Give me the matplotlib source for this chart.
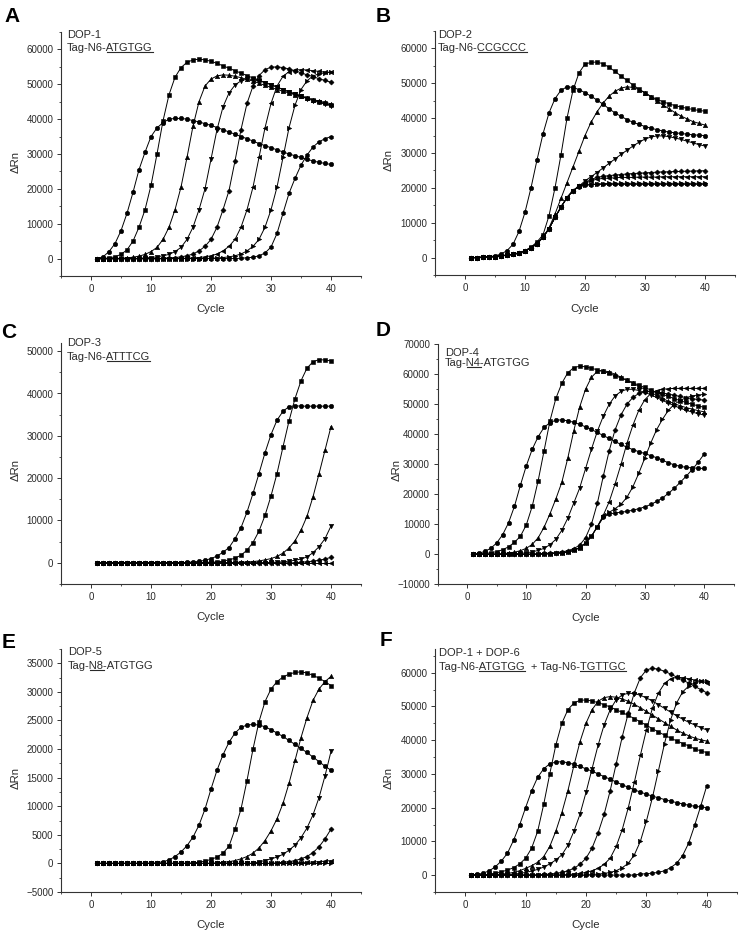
import matplotlib
matplotlib.use("Agg")
import matplotlib.pyplot as plt
from matplotlib.ticker import MultipleLocator
from matplotlib.lines import Line2D

plt.rcParams['font.family'] = ['Liberation Sans', 'DejaVu Sans']

CYCLES = list(range(1, 41))

# ---------------- data (ΔRn in thousands, cycles 1..40) ----------------
A1 = [0, 0.5, 2, 4.3, 8, 13, 19, 25.5, 30.5, 35,
      37.5, 39, 40, 40.2, 40.2, 40, 39.6, 39.2, 38.7, 38.2,
      37.6, 37, 36.3, 35.7, 35, 34.4, 33.7, 33, 32.4, 31.8,
      31.2, 30.6, 30, 29.5, 29, 28.5, 28, 27.6, 27.3, 27]
A2 = [0, 0, 0.2, 0.5, 1.2, 2.5, 5, 9, 14, 21,
      30, 39.5, 47, 52, 54.8, 56.3, 57, 57.2, 57, 56.6,
      56, 55.3, 54.6, 53.9, 53.2, 52.5, 51.8, 51.2, 50.5, 49.9,
      49.2, 48.5, 47.9, 47.3, 46.7, 46.1, 45.5, 45, 44.5, 44]
A3 = [0, 0, 0, 0, 0.1, 0.2, 0.4, 0.7, 1.2, 2,
      3.2, 5.5, 9, 14, 20.5, 29, 38, 45, 49.5, 51.5,
      52.4, 52.7, 52.6, 52.3, 51.9, 51.4, 50.9, 50.3, 49.7, 49.1,
      48.5, 48, 47.5, 47, 46.5, 46.1, 45.6, 45.2, 44.8, 44.4]
A4 = [0, 0, 0, 0, 0, 0, 0, 0.1, 0.2, 0.3,
      0.5, 0.8, 1.2, 2, 3.2, 5.5, 9, 14, 20, 28.5,
      37, 43.5, 47.5, 49.8, 51, 51.5, 51.4, 51, 50.5, 49.9,
      49.2, 48.5, 47.8, 47.1, 46.5, 45.9, 45.3, 44.8, 44.3, 43.8]
A5 = [0, 0, 0, 0, 0, 0, 0, 0, 0, 0,
      0, 0.1, 0.2, 0.3, 0.5, 0.8, 1.3, 2.2, 3.5, 5.5,
      9, 14, 19.5, 28, 37, 44.5, 49.5, 52.5, 54.2, 54.9,
      55, 54.8, 54.4, 53.9, 53.3, 52.7, 52.2, 51.6, 51.1, 50.6]
A6 = [0, 0, 0, 0, 0, 0, 0, 0, 0, 0,
      0, 0, 0, 0, 0, 0.1, 0.2, 0.3, 0.5, 0.8,
      1.3, 2.2, 3.5, 5.5, 9, 14, 20.5, 29, 37.5, 44.5,
      49.5, 52.3, 53.6, 54.1, 54.2, 54.1, 53.9, 53.7, 53.5, 53.4]
A7 = [0, 0, 0, 0, 0, 0, 0, 0, 0, 0,
      0, 0, 0, 0, 0, 0, 0, 0, 0, 0.1,
      0.2, 0.3, 0.5, 0.8, 1.3, 2.2, 3.5, 5.5, 9, 14,
      20.5, 29, 37.5, 44, 48.5, 51, 52.4, 53, 53.3, 53.5]
A8 = [0, 0, 0, 0, 0, 0, 0, 0, 0, 0,
      0, 0, 0, 0, 0, 0, 0, 0, 0, 0,
      0, 0, 0, 0, 0.1, 0.2, 0.4, 0.8, 1.6, 3.3,
      7.2, 13, 18.7, 23, 26.8, 29.7, 32, 33.5, 34.4, 35]

B1 = [0, 0, 0.1, 0.2, 0.5, 1, 2, 3.8, 7.5, 13,
      20, 28, 35.5, 41.5, 45.6, 48, 49, 48.8, 48.2, 47.3,
      46.3, 45.2, 44, 42.7, 41.5, 40.5, 39.6, 38.8, 38.2, 37.6,
      37.1, 36.7, 36.3, 36, 35.8, 35.6, 35.4, 35.2, 35.1, 35]
B2 = [0, 0, 0.1, 0.2, 0.3, 0.5, 0.7, 1, 1.4, 2,
      3, 4.5, 6.5, 12, 20, 29.5, 40, 48, 53, 55.5,
      56, 56.1, 55.6, 54.6, 53.4, 52.1, 50.8, 49.5, 48.3, 47.2,
      46.2, 45.4, 44.7, 44.1, 43.6, 43.2, 42.8, 42.5, 42.2, 42]
B3 = [0, 0, 0.1, 0.2, 0.3, 0.5, 0.7, 0.9, 1.3, 1.9,
      2.8, 4, 5.8, 8.5, 12.5, 17, 21.5, 26, 30.5, 35,
      38.8, 41.8, 44.3, 46.3, 47.7, 48.6, 49, 48.8, 48.2, 47.3,
      46.2, 45, 43.8, 42.7, 41.6, 40.6, 39.8, 39, 38.5, 38]
B4 = [0, 0, 0.1, 0.2, 0.3, 0.5, 0.7, 0.9, 1.3, 1.9,
      2.8, 4, 5.8, 8.3, 11.5, 14.5, 17.2, 19.2, 20.5, 22,
      23.2, 24.4, 25.7, 27, 28.3, 29.6, 30.8, 32, 33.1, 34,
      34.6, 34.9, 34.9, 34.7, 34.3, 33.9, 33.4, 32.9, 32.4, 32]
B5 = [0, 0, 0.1, 0.2, 0.3, 0.5, 0.7, 0.9, 1.3, 1.9,
      2.8, 4, 5.8, 8.3, 11.5, 14.5, 17.2, 19.2, 20.5, 21.5,
      22.4, 23, 23.3, 23.5, 23.7, 23.8, 24, 24.1, 24.2, 24.3,
      24.4, 24.5, 24.6, 24.6, 24.7, 24.7, 24.8, 24.8, 24.9, 24.9]
B6 = [0, 0, 0.1, 0.2, 0.3, 0.5, 0.7, 0.9, 1.3, 1.9,
      2.8, 4, 5.8, 8.3, 11.5, 14.5, 17.2, 19.2, 20.5, 21.3,
      22, 22.5, 22.7, 22.8, 22.9, 23, 23, 23, 23.1, 23.1,
      23.1, 23.1, 23.2, 23.2, 23.2, 23.2, 23.2, 23.2, 23.2, 23.2]
B7 = [0, 0, 0.1, 0.2, 0.3, 0.5, 0.7, 0.9, 1.3, 1.9,
      2.8, 4, 5.8, 8.3, 11.5, 14.5, 17.2, 19.2, 20.5, 20.8,
      21, 21.1, 21.2, 21.3, 21.3, 21.3, 21.3, 21.3, 21.3, 21.3,
      21.3, 21.3, 21.3, 21.3, 21.3, 21.3, 21.3, 21.3, 21.3, 21.3]
B8 = [0, 0, 0.1, 0.2, 0.3, 0.5, 0.7, 0.9, 1.3, 1.9,
      2.8, 4, 5.8, 8.3, 11.5, 14.5, 17.2, 19.2, 20.3, 20.7,
      20.9, 21, 21, 21, 21, 21, 21, 21, 21, 21,
      21, 21, 21, 21, 21, 21, 21, 21, 21, 21]

C1 = [0, 0, 0, 0, 0, 0, 0, 0, 0, 0,
      0, 0, 0, 0, 0, 0.1, 0.2, 0.35, 0.6, 1,
      1.6, 2.5, 3.6, 5.7, 8.3, 12, 16.4, 21.1, 26, 30.3,
      33.7, 35.8, 36.9, 37.1, 37, 37, 37, 37, 37, 37]
C2 = [0, 0, 0, 0, 0, 0, 0, 0, 0, 0,
      0, 0, 0, 0, 0, 0, 0, 0, 0.1, 0.15,
      0.2, 0.4, 0.7, 1.1, 1.8, 3, 4.8, 7.5, 11.2, 15.8,
      21.1, 27.4, 33.5, 38.8, 43, 46, 47.5, 48, 47.9, 47.7]
C3 = [0, 0, 0, 0, 0, 0, 0, 0, 0, 0,
      0, 0, 0, 0, 0, 0, 0, 0, 0, 0,
      0, 0, 0, 0.1, 0.15, 0.2, 0.3, 0.45, 0.7, 1,
      1.5, 2.3, 3.5, 5.2, 7.7, 11, 15.6, 21, 26.6, 32.2]
C4 = [0, 0, 0, 0, 0, 0, 0, 0, 0, 0,
      0, 0, 0, 0, 0, 0, 0, 0, 0, 0,
      0, 0, 0, 0, 0, 0, 0, 0, 0, 0.1,
      0.15, 0.25, 0.4, 0.6, 0.9, 1.4, 2.4, 3.8, 5.7, 8.7]
C5 = [0, 0, 0, 0, 0, 0, 0, 0, 0, 0,
      0, 0, 0, 0, 0, 0, 0, 0, 0, 0,
      0, 0, 0, 0, 0, 0, 0, 0, 0, 0,
      0, 0, 0, 0, 0.15, 0.25, 0.4, 0.6, 0.9, 1.3]
C6 = [0, 0, 0, 0, 0, 0, 0, 0, 0, 0,
      0, 0, 0, 0, 0, 0, 0, 0, 0, 0,
      0, 0, 0, 0, 0, 0, 0, 0, 0, 0,
      0, 0, 0, 0, 0, 0, 0, 0, 0, 0]

D1 = [0, 0.3, 1, 2, 3.8, 6.5, 10.5, 16, 23, 29.5,
      35, 39.2, 42.3, 43.9, 44.7, 44.8, 44.5, 44, 43.3, 42.5,
      41.6, 40.6, 39.6, 38.6, 37.6, 36.6, 35.7, 34.9, 34.2, 33.6,
      32.9, 32.2, 31.4, 30.5, 29.8, 29.3, 29, 28.8, 28.7, 28.6]
D2 = [0, 0.1, 0.3, 0.5, 0.9, 1.5, 2.5, 4, 6, 9.8,
      16, 24.5, 34.5, 44.5, 52, 57, 60.5, 62.2, 62.7, 62.5,
      62, 61.5, 61, 60.3, 59.5, 58.8, 58, 57.2, 56.4, 55.6,
      54.8, 54, 53.3, 52.6, 51.9, 51.2, 50.6, 50, 49.5, 49]
D3 = [0, 0, 0, 0, 0.1, 0.2, 0.4, 0.7, 1.2, 2,
      3.3, 5.5, 9, 13.5, 18.5, 24, 32, 41, 49, 55,
      59, 61, 61.2, 60.8, 60, 59, 58, 57, 56, 55,
      54, 53, 52, 51, 50.2, 49.5, 48.9, 48.4, 47.9, 47.5]
D4 = [0, 0, 0, 0, 0, 0, 0.1, 0.2, 0.3, 0.5,
      0.8, 1.3, 2, 3.2, 5, 8, 12, 17, 22, 28.5,
      35, 41, 46, 50, 52.8, 54.3, 55, 55, 54.6, 54,
      53.2, 52.3, 51.3, 50.4, 49.5, 48.7, 48, 47.4, 46.9, 46.4]
D5 = [0, 0, 0, 0, 0, 0, 0, 0, 0, 0,
      0.1, 0.2, 0.3, 0.4, 0.6, 0.8, 1.2, 1.9, 3, 5.5,
      10, 17, 26, 34.5, 41.5, 46.5, 50, 52.3, 53.6, 54.2,
      54.3, 54.1, 53.8, 53.4, 53, 52.6, 52.2, 51.9, 51.6, 51.4]
D6 = [0, 0, 0, 0, 0, 0, 0, 0, 0, 0,
      0, 0, 0.1, 0.2, 0.3, 0.5, 0.8, 1.3, 2.2, 3.7,
      6, 9.2, 13, 17.5, 23.5, 30, 37, 43, 48, 51.5,
      53.5, 54.5, 55, 55.2, 55.3, 55.3, 55.3, 55.3, 55.3, 55.3]
D7 = [0, 0, 0, 0, 0, 0, 0, 0, 0, 0,
      0, 0, 0.1, 0.2, 0.3, 0.5, 0.8, 1.3, 2.2, 3.7,
      6, 9.2, 12.5, 14, 15.2, 16.7, 19, 22.5, 27, 32,
      37, 41.5, 45, 48, 50, 51.3, 52.2, 52.8, 53.1, 53.3]
D8 = [0, 0, 0, 0, 0, 0, 0, 0, 0, 0,
      0, 0, 0.1, 0.2, 0.3, 0.5, 0.8, 1.3, 2.2, 3.7,
      6, 9.2, 12.3, 13.4, 13.8, 14, 14.3, 14.7, 15.2, 15.8,
      16.6, 17.6, 18.8, 20.3, 22, 24, 26, 28.2, 30.6, 33.3]

E1 = [0, 0, 0, 0, 0, 0, 0, 0, 0, 0,
      0.1, 0.3, 0.6, 1.2, 2, 3.1, 4.6, 6.7, 9.5, 13,
      16.3, 19, 21.2, 22.8, 23.8, 24.2, 24.3, 24.2, 23.9, 23.4,
      22.8, 22.2, 21.5, 20.8, 20.1, 19.4, 18.6, 17.8, 17, 16.3]
E2 = [0, 0, 0, 0, 0, 0, 0, 0, 0, 0,
      0, 0, 0, 0, 0, 0, 0.1, 0.2, 0.4, 0.7,
      1.1, 1.8, 3, 6, 9.5, 14.5, 20, 24.8, 28.3, 30.5,
      31.8, 32.6, 33.1, 33.4, 33.5, 33.3, 32.9, 32.4, 31.8, 31.1]
E3 = [0, 0, 0, 0, 0, 0, 0, 0, 0, 0,
      0, 0, 0, 0, 0, 0, 0, 0, 0, 0,
      0.1, 0.2, 0.3, 0.5, 0.8, 1.2, 1.8, 2.7, 4, 5.7,
      7.8, 10.5, 14, 18, 22, 25.5, 28.5, 30.5, 31.8, 32.7]
E4 = [0, 0, 0, 0, 0, 0, 0, 0, 0, 0,
      0, 0, 0, 0, 0, 0, 0, 0, 0, 0,
      0, 0, 0, 0, 0, 0, 0, 0.3, 0.5, 0.8,
      1.1, 1.6, 2.3, 3.2, 4.5, 6.2, 8.5, 11.5, 15.3, 19.6]
E5 = [0, 0, 0, 0, 0, 0, 0, 0, 0, 0,
      0, 0, 0, 0, 0, 0, 0, 0, 0, 0,
      0, 0, 0, 0, 0, 0, 0, 0, 0, 0,
      0.1, 0.2, 0.3, 0.5, 0.8, 1.2, 1.9, 2.9, 4.3, 6]
E6 = [0, 0, 0, 0, 0, 0, 0, 0, 0, 0,
      0, 0, 0, 0, 0, 0, 0, 0, 0, 0,
      0, 0, 0, 0, 0, 0, 0, 0, 0, 0,
      0, 0, 0, 0.1, 0.15, 0.2, 0.25, 0.3, 0.4, 0.5]
E7 = [0, 0, 0, 0, 0, 0, 0, 0, 0, 0,
      0, 0, 0, 0, 0, 0, 0, 0, 0, 0,
      0, 0, 0, 0, 0, 0, 0, 0, 0, 0,
      0, 0, 0, 0, 0, 0, 0, 0, 0, 0]

F1 = [0, 0.2, 0.6, 1.3, 2.5, 4.2, 6.5, 10.3, 14.8, 20,
      25, 29, 31.5, 33, 33.5, 33.6, 33.3, 32.8, 32.2, 31.5,
      30.8, 30, 29.2, 28.4, 27.6, 26.8, 26, 25.3, 24.6, 24,
      23.4, 22.9, 22.4, 21.9, 21.5, 21.1, 20.7, 20.4, 20.2, 20]
F2 = [0, 0, 0.1, 0.3, 0.6, 1, 1.5, 2.2, 3.3, 5,
      8, 13, 21, 30, 38.5, 45, 49, 51, 51.8, 51.9,
      51.6, 51.1, 50.5, 49.8, 49, 48.2, 47.3, 46.4, 45.4, 44.4,
      43.4, 42.4, 41.5, 40.6, 39.8, 39, 38.3, 37.4, 36.8, 36.3]
F3 = [0, 0, 0, 0.1, 0.2, 0.3, 0.5, 0.8, 1.3, 2,
      2.8, 3.8, 5.5, 8.5, 13, 18.5, 25, 32.5, 39.5, 45,
      49, 51.5, 52.6, 52.9, 52.7, 52.2, 51.5, 50.6, 49.6, 48.5,
      47.4, 46.3, 45.2, 44.1, 43, 42.1, 41.3, 40.6, 40.1, 39.7]
F4 = [0, 0, 0, 0, 0, 0.1, 0.2, 0.3, 0.5, 0.8,
      1.2, 1.7, 2.4, 3.3, 4.5, 6, 8.8, 13, 18, 24.5,
      31.5, 38.5, 44.5, 49, 52, 53.4, 53.9, 53.8, 53.3, 52.5,
      51.6, 50.5, 49.4, 48.3, 47.2, 46.2, 45.3, 44.5, 43.7, 43]
F5 = [0, 0, 0, 0, 0, 0, 0, 0, 0, 0,
      0, 0, 0.2, 0.3, 0.5, 0.8, 1.3, 2, 3.2, 5,
      8, 12.5, 18, 25, 33, 41, 48, 54, 58.5, 60.8,
      61.3, 61, 60.4, 59.6, 58.7, 57.8, 56.9, 55.9, 55, 54]
F6 = [0, 0, 0, 0, 0, 0, 0, 0, 0, 0,
      0, 0, 0, 0, 0, 0, 0.2, 0.3, 0.5, 0.8,
      1.3, 2, 3.2, 5, 8.5, 13.5, 20, 27.5, 35.5, 43,
      49.5, 54, 56.8, 58.2, 58.6, 58.5, 58.2, 57.8, 57.4, 57]
F7 = [0, 0, 0, 0, 0, 0, 0, 0, 0, 0,
      0, 0, 0, 0, 0, 0, 0, 0, 0, 0,
      0.2, 0.3, 0.5, 0.8, 1.3, 2.2, 3.5, 6, 10, 16,
      23, 31, 39, 46, 51, 54.3, 56, 57, 57.4, 57.6]
F8 = [0, 0, 0, 0, 0, 0, 0, 0, 0, 0,
      0, 0, 0, 0, 0, 0, 0, 0, 0, 0,
      0, 0, 0, 0, 0, 0, 0, 0, 0.3, 0.4,
      0.6, 0.8, 1.3, 2.2, 3.5, 5.8, 9.5, 14.8, 20.5, 26.5]

MARKERS = ['o', 's', '^', 'v', 'D', '<', '>', 'h']
X_TICKS = [0, 10, 20, 30, 40]

# ---------------- layout ----------------
W, H = 742, 933
fig = plt.figure(figsize=(W / 100, H / 100), dpi=100)
TXT = '#2a2a2a'
ANN = 8.0

PANELS = [
    dict(letter='A', series=[A1, A2, A3, A4, A5, A6, A7, A8], box=(61, 32, 361, 276),
         ylim=(-5000, 65000), ymaj=10000, ymin=5000, lpos=(12, 16), ylx=21, yly=162,
         l1=('DOP-1', 67, 35), l2=([('Tag-N6-', False), ('ATGTGG', True)], 67, 48)),
    dict(letter='B', series=[B1, B2, B3, B4, B5, B6, B7, B8], box=(435, 31, 735, 275),
         ylim=(-5000, 65000), ymaj=10000, ymin=5000, lpos=(383, 16), ylx=394, yly=160,
         l1=('DOP-2', 438, 35), l2=([('Tag-N6-', False), ('CCGCCC', True)], 438, 48)),
    dict(letter='C', series=[C1, C2, C3, C4, C5, C6], box=(61, 342.7, 361, 584),
         ylim=(-5000, 52000), ymaj=10000, ymin=5000, lpos=(9, 333), ylx=21, yly=470,
         l1=('DOP-3', 67, 343.5), l2=([('Tag-N6-', False), ('ATTTCG', True)], 67, 356.7)),
    dict(letter='D', series=[D1, D2, D3, D4, D5, D6, D7, D8], box=(437.5, 344.3, 733.5, 584.3),
         ylim=(-10000, 70000), ymaj=10000, ymin=5000, lpos=(383, 330), ylx=402, yly=470,
         l1=('DOP-4', 445, 352.7), l2=([('Tag-', False), ('N4', True), ('-ATGTGG', False)], 445, 363)),
    dict(letter='E', series=[E1, E2, E3, E4, E5, E6, E7], box=(61, 649, 361, 892),
         ylim=(-5000, 37500), ymaj=5000, ymin=2500, lpos=(9, 642), ylx=21, yly=778,
         l1=('DOP-5', 68, 652.3), l2=([('Tag-', False), ('N8', True), ('-ATGTGG', False)], 68, 665.7)),
    dict(letter='F', series=[F1, F2, F3, F4, F5, F6, F7, F8], box=(435, 649, 737, 892),
         ylim=(-5000, 67000), ymaj=10000, ymin=5000, lpos=(386, 641), ylx=394, yly=778,
         l1=('DOP-1 + DOP-6', 439, 653.3),
         l2=([('Tag-N6-', False), ('ATGTGG', True), ('  + Tag-N6-', False), ('TGTTGC', True)], 439, 666.7)),
]

renderer = fig.canvas.get_renderer()


def fx(px):
    return px / W


def fy(py):
    return 1 - py / H


def text_width(s, size):
    t = fig.text(0, 0, s, fontsize=size)
    w = t.get_window_extent(renderer).width
    t.remove()
    return w


def rich_text(parts, x_px, y_px, size):
    full = ''.join(s for s, _ in parts)
    t = fig.text(fx(x_px), fy(y_px), full, fontsize=size, ha='left', va='center', color=TXT)
    bb = t.get_window_extent(renderer)
    prefix = ''
    for s, ul in parts:
        if ul:
            end = bb.x0 + text_width(prefix + s, size)
            start = end - text_width(s, size)
            yl = (bb.y0 + 0.9) / H
            fig.add_artist(Line2D([start / W, end / W], [yl, yl], transform=fig.transFigure,
                                  color=TXT, lw=0.8))
        prefix += s


for p in PANELS:
    l, t, r, b = p['box']
    ax = fig.add_axes([fx(l), fy(b), (r - l) / W, (b - t) / H])
    for i, s in enumerate(p['series']):
        m = MARKERS[i % len(MARKERS)]
        ms = 2.6 if m == 'D' else 3.2
        ax.plot(CYCLES, [v * 1000 for v in s], color='black', lw=0.7, marker=m,
                ms=ms, mfc='black', mec='black', mew=0.4)
    ax.set_xlim(-5, 45)
    ax.set_xticks(X_TICKS)
    ax.xaxis.set_minor_locator(MultipleLocator(5))
    ax.yaxis.set_major_locator(MultipleLocator(p['ymaj']))
    ax.yaxis.set_minor_locator(MultipleLocator(p['ymin']))
    ax.set_ylim(*p['ylim'])
    for side in ('top', 'right'):
        ax.spines[side].set_visible(False)
    for side in ('left', 'bottom'):
        ax.spines[side].set_color('#333333')
        ax.spines[side].set_linewidth(0.8)
    ax.tick_params(which='major', direction='out', length=3, width=0.7, color='#333333',
                   labelsize=7, labelcolor=TXT, pad=2.5)
    ax.tick_params(which='minor', direction='out', length=1.7, width=0.6, color='#333333')
    ax.set_xlabel('Cycle', fontsize=8.2, color=TXT)
    ax.xaxis.set_label_coords(0.5, -28.5 / (b - t))
    ax.set_ylabel('ΔRn', fontsize=8.2, color=TXT)
    ax.yaxis.set_label_coords((p['ylx'] - l) / (r - l), (b - p['yly']) / (b - t))
    ax.patch.set_alpha(0)

    fig.text(fx(p['lpos'][0]), fy(p['lpos'][1]), p['letter'], fontsize=15, fontweight='bold',
             ha='center', va='center', color='black')
    s1, x1, y1 = p['l1']
    fig.text(fx(x1), fy(y1), s1, fontsize=ANN, ha='left', va='center', color=TXT)
    parts, x2, y2 = p['l2']
    rich_text(parts, x2, y2, ANN)

fig.savefig('out.png', dpi=100)
